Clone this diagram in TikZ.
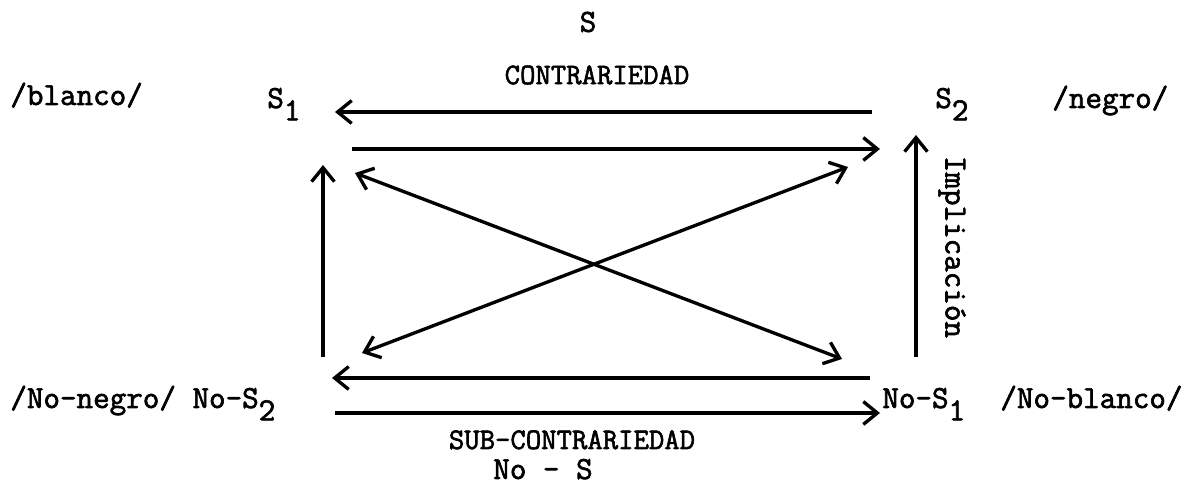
\documentclass[tikz,border=0pt]{standalone}
\usepackage{fontspec}
\setmonofont{Latin Modern Mono}[FakeBold=2]
\usetikzlibrary{arrows.meta}
\newcommand{\lsub}[1]{\lower7pt\hbox{#1}}
\begin{document}
\begin{tikzpicture}[x=0.02cm,y=-0.02cm,
  lbl/.style={inner sep=0pt,font=\ttfamily\fontsize{18.3}{20}\selectfont},
  small/.style={inner sep=0pt,font=\ttfamily\fontsize{17}{19}\selectfont},
  arr/.style={line width=1.9pt,-{Straight Barb[length=8pt,width=13pt,line width=1.9pt]}},
  darr/.style={line width=1.9pt,{Straight Barb[length=8pt,width=13pt,line width=1.9pt]}-{Straight Barb[length=8pt,width=13pt,line width=1.9pt]}}]
\useasboundingbox (0,0) rectangle (1194,492);
% labels
\node[lbl] (S) at (588,22) {S};
\node[small] (contr) at (597,75) {CONTRARIEDAD};
\node[lbl,anchor=base west] (blanco) at (10,105) {/blanco/};
\node[lbl,anchor=base west] (s1) at (267,108) {S\lsub{1}};
\node[lbl,anchor=base west] (s2) at (935,108) {S\lsub{2}};
\node[lbl,anchor=base west] (negro) at (1052,108) {/negro/};
\node[lbl,anchor=base west] (nonegro) at (10,408) {/No-negro/ No-S\lsub{2}};
\node[lbl,anchor=base west] (nos1) at (882,408) {No-S\lsub{1}};
\node[lbl,anchor=base west] (noblanco) at (1000,408) {/No-blanco/};
\node[small,anchor=base] (sub) at (572,449) {SUB-CONTRARIEDAD};
\node[lbl,anchor=base] (nos) at (543,479) {No - S};
\node[lbl,rotate=-90] (impl) at (952,247) {Implicación};
% connector end points
\coordinate (t1a) at (872,112);
\coordinate (t1b) at (335,112);
\coordinate (t2a) at (352,149);
\coordinate (t2b) at (880,149);
\coordinate (b1a) at (870,378);
\coordinate (b1b) at (332,378);
\coordinate (b2a) at (335,413);
\coordinate (b2b) at (880,413);
\coordinate (lva) at (323,357);
\coordinate (lvb) at (323,165);
\coordinate (rva) at (916,357);
\coordinate (rvb) at (916,135);
\coordinate (d1a) at (355,173);
\coordinate (d1b) at (842,359);
\coordinate (d2a) at (362,353);
\coordinate (d2b) at (848,167);
% connectors
\draw[arr] (t1a) -- (t1b);
\draw[arr] (t2a) -- (t2b);
\draw[arr] (b1a) -- (b1b);
\draw[arr] (b2a) -- (b2b);
\draw[arr] (lva) -- (lvb);
\draw[arr] (rva) -- (rvb);
\draw[darr] (d1a) -- (d1b);
\draw[darr] (d2a) -- (d2b);
\end{tikzpicture}
\end{document}
